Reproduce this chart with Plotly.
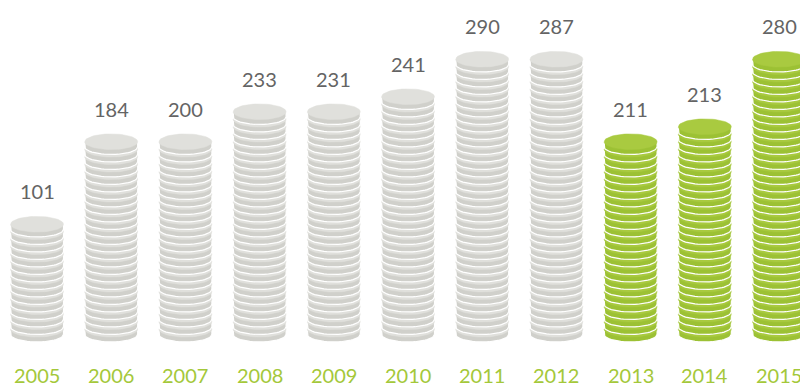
import numpy as np
import plotly.graph_objects as go

# ---- data ----
years = ["2005", "2006", "2007", "2008", "2009", "2010", "2011", "2012", "2013", "2014", "2015"]
values = [101, 184, 200, 233, 231, 241, 290, 287, 211, 213, 280]
coins = [15, 26, 26, 30, 30, 32, 37, 37, 26, 28, 37]          # coins in each stack
highlight = [False, False, False, False, False, False, False, False, True, True, True]

# ---- styling ----
W, H = 800, 387
x_step = 74.2        # px per category
x0_px = 37           # px position of first category centre
base = 45            # px from bottom where stacks rest
pitch = 7.5          # px between coins
thick = 5.0          # visible coin side thickness
ry = 7.8             # vertical radius of coin face
rx = 26.5 / x_step   # horizontal radius in category units

GRAY_TOP, GRAY_SIDE = "#e0e0dc", "#d0d0cb"
GREEN_TOP, GREEN_SIDE = "#a9ca40", "#9cc134"
VAL_COLOR = "#646464"
YEAR_COLOR = "#a4c83a"
FONT = "Lato, 'Open Sans', sans-serif"

th_bot = np.linspace(np.pi, 2 * np.pi, 30)
th_full = np.linspace(0, 2 * np.pi, 60)

fig = go.Figure()
max_c = max(coins)
for lvl in range(max_c):
    for green in (False, True):
        sx, sy, tx, ty = [], [], [], []
        for i, (n, hl) in enumerate(zip(coins, highlight)):
            if hl != green or lvl >= n:
                continue
            y0 = base + ry + lvl * pitch
            y1 = y0 + thick
            # side
            px = [i - rx, i - rx] + list(i + rx * np.cos(th_bot)) + [i + rx, i - rx]
            py = [y1, y0] + list(y0 + ry * np.sin(th_bot)) + [y1, y1]
            sx += px + [None]
            sy += py + [None]
            # top face
            tx += list(i + rx * np.cos(th_full)) + [None]
            ty += list(y1 + ry * np.sin(th_full)) + [None]
        if not sx:
            continue
        side_c = GREEN_SIDE if green else GRAY_SIDE
        top_c = GREEN_TOP if green else GRAY_TOP
        fig.add_trace(go.Scatter(x=sx, y=sy, mode="lines", fill="toself",
                                 fillcolor=side_c, line=dict(color="white", width=1.2),
                                 hoverinfo="skip", showlegend=False))
        fig.add_trace(go.Scatter(x=tx, y=ty, mode="lines", fill="toself",
                                 fillcolor=top_c, line=dict(color=top_c, width=0.5),
                                 hoverinfo="skip", showlegend=False))

annotations = []
for i, (yr, v, n) in enumerate(zip(years, values, coins)):
    top = base + 2 * ry + (n - 1) * pitch + thick
    annotations.append(dict(x=i, y=top + 11, xref="x", yref="y", text=str(v),
                            showarrow=False, yanchor="bottom", xanchor="center",
                            font=dict(family=FONT, size=20, color=VAL_COLOR)))
    annotations.append(dict(x=i, y=12, xref="x", yref="y", text=yr,
                            showarrow=False, yanchor="middle", xanchor="center",
                            font=dict(family=FONT, size=20, color=YEAR_COLOR)))

fig.update_layout(
    width=W, height=H,
    margin=dict(l=0, r=0, t=0, b=0),
    paper_bgcolor="white", plot_bgcolor="white",
    xaxis=dict(range=[-x0_px / x_step, (W - x0_px) / x_step], visible=False, fixedrange=True),
    yaxis=dict(range=[0, H], visible=False, fixedrange=True),
    annotations=annotations,
    showlegend=False,
)

fig.write_html("out.html")
